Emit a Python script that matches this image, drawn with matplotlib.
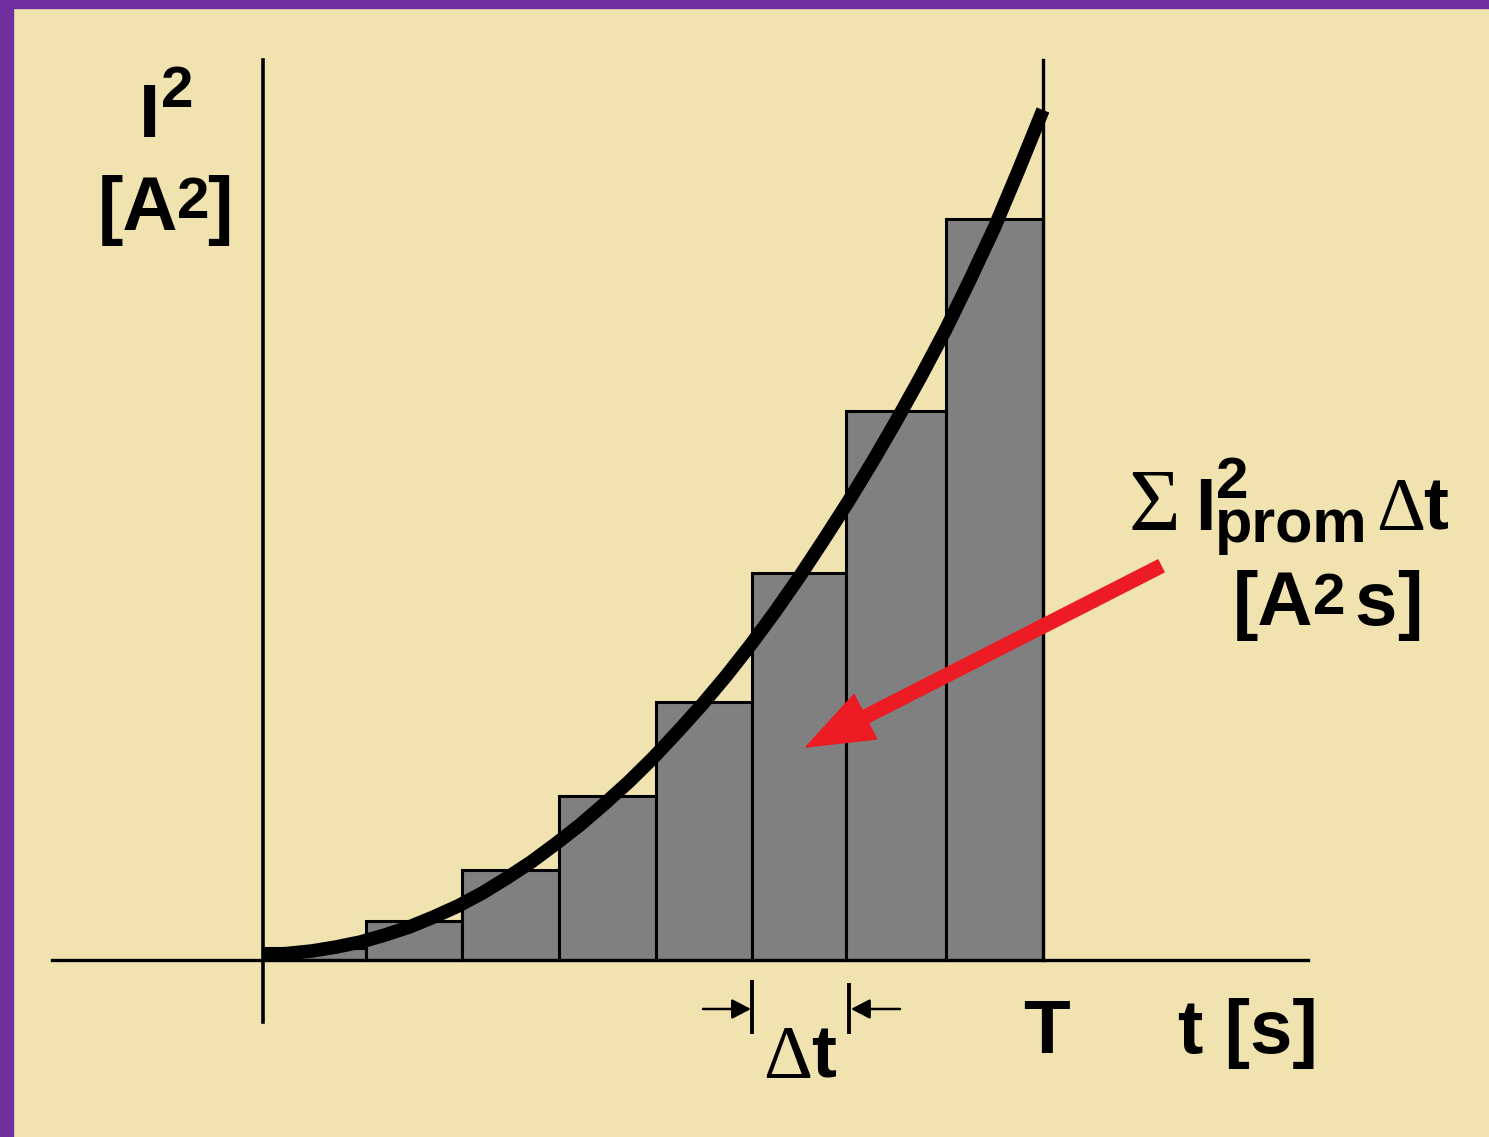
import matplotlib.pyplot as plt
from matplotlib.patches import FancyArrowPatch, ArrowStyle, Rectangle

W, H = 1489, 1137

# step boundaries along t and the I^2 level held over each step
t_edges = [0.0, 1.056, 2.041, 3.036, 4.031, 5.015, 5.979, 7.005, 8.0]
bar_heights = [0.12, 0.39, 0.90, 1.64, 2.58, 3.87, 5.49, 7.41]

# I^2(t) curve
curve_t = [0.0, 0.25, 0.5, 0.75, 1.0, 1.25, 1.5, 1.75, 2.0, 2.25, 2.5, 2.75, 3.0, 3.25,
           3.5, 3.75, 4.0, 4.25, 4.5, 4.75, 5.0, 5.25, 5.5, 5.75, 6.0, 6.25, 6.5, 6.75,
           7.0, 7.25, 7.5, 7.75, 8.0]
curve_i2 = [0.05, 0.065, 0.09, 0.13, 0.18, 0.25, 0.33, 0.43, 0.54, 0.67, 0.82, 0.98, 1.16,
            1.35, 1.56, 1.78, 2.02, 2.28, 2.55, 2.84, 3.15, 3.48, 3.83, 4.20, 4.58, 4.98,
            5.40, 5.84, 6.30, 6.80, 7.32, 7.90, 8.50]

T_END = 8.0

BG = "#F0E3B0"
PURPLE = "#7030A0"
GREY = "#808080"
RED = "#ED1C24"

# origin of the plot in pixels and pixels per unit
X0, Y0, SX, SY = 263, 960, 97.5, 100.0

fig = plt.figure(figsize=(W / 100, H / 100), dpi=100, facecolor=BG)

# frame: purple strip on top and left
fig.patches.append(Rectangle((0, 1 - 8 / H), 1, 8 / H, transform=fig.transFigure,
                             color=PURPLE, zorder=0))
fig.patches.append(Rectangle((0, 0), 13 / W, 1, transform=fig.transFigure,
                             color=PURPLE, zorder=0))

ax = fig.add_axes([0, 0, 1, 1])
ax.set_xlim(-X0 / SX, (W - X0) / SX)
ax.set_ylim((Y0 - H) / SY, Y0 / SY)
ax.axis("off")

# axes lines
ax.plot([-211 / SX, 1045 / SX], [0, 0], color="black", lw=2.4, zorder=4)
ax.plot([0, 0], [-62 / SY, 900 / SY], color="black", lw=2.6, zorder=4)
ax.plot([T_END, T_END], [0, 900 / SY], color="black", lw=2.4, zorder=4)

widths = [b - a for a, b in zip(t_edges[:-1], t_edges[1:])]
ax.bar(t_edges[:-1], bar_heights, width=widths, align="edge", color=GREY,
       edgecolor="black", linewidth=2.2, zorder=2)

ax.plot(curve_t, curve_i2, color="black", lw=9.8, solid_capstyle="butt",
        solid_joinstyle="round", zorder=5)

# overlay in pixel coordinates for labels and arrows
ov = fig.add_axes([0, 0, 1, 1])
ov.set_xlim(0, W)
ov.set_ylim(H, 0)
ov.axis("off")
ov.patch.set_alpha(0)

red = FancyArrowPatch((1161, 566), (806, 747),
                      arrowstyle=ArrowStyle.Simple(head_length=48, head_width=36, tail_width=9.8),
                      mutation_scale=1, color=RED, shrinkA=0, shrinkB=0, zorder=6)
ov.add_patch(red)

# delta-t markers
tick_l = X0 + SX * t_edges[5]
tick_r = X0 + SX * t_edges[6]
ov.plot([tick_l, tick_l], [982, 1032], color="black", lw=2.8)
ov.plot([tick_r + 3, tick_r + 3], [985, 1032], color="black", lw=2.8)
small = ArrowStyle("-|>", head_length=11.5, head_width=6.0)
ov.add_patch(FancyArrowPatch((703, 1009), (tick_l - 1, 1009), arrowstyle=small,
                             mutation_scale=1, color="black", lw=1.8,
                             shrinkA=0, shrinkB=0))
ov.add_patch(FancyArrowPatch((900, 1009), (tick_r + 5, 1009), arrowstyle=small,
                             mutation_scale=1, color="black", lw=1.8,
                             shrinkA=0, shrinkB=0))


def label(x, y, s, size, ha="center", serif=False):
    fam = "Liberation Serif" if serif else "Liberation Sans"
    ov.text(x, y, s, fontsize=size, ha=ha, va="baseline", family=fam,
            fontweight="normal" if serif else "bold", color="black")


# y axis title
label(150, 137, "I", 55)
label(177, 107, "2", 42)
label(98, 230, "[A", 55, ha="left")
label(193, 218, "2", 42)
label(220, 230, "]", 55)

# sum label
label(1154, 530, "\u03a3", 64, serif=True)
label(1205, 530, "I", 53)
label(1232, 498, "2", 42)
label(1215, 542, "prom", 44, ha="left")
label(1401, 530, "\u0394", 55, serif=True)
label(1436, 530, "t", 54)
label(1233, 625, "[A", 55, ha="left")
label(1329, 614, "2", 42)
label(1376, 625, "s", 55)
label(1410, 625, "]", 55)

# x axis labels
label(788, 1078, "\u0394", 55, serif=True)
label(824, 1078, "t", 54)
label(1046, 1053, "T", 55)
label(1178, 1053, "t [s]", 55, ha="left")

fig.savefig("out.png", dpi=100, facecolor=BG)
